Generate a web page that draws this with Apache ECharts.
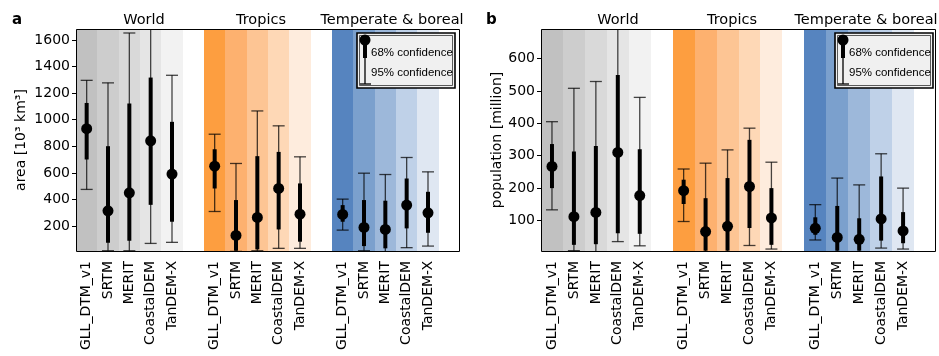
<!DOCTYPE html>
<html>
<head>
<meta charset="utf-8">
<script src="https://cdn.jsdelivr.net/npm/echarts@6/dist/echarts.min.js"></script>
<style>
  html, body { margin: 0; padding: 0; background: #fff; }
  #chart { width: 939px; height: 356px; }
</style>
</head>
<body>
<div id="chart"></div>
<script>
// DEM names, repeated per region with an empty slot as a gap
const dems = ['GLL_DTM_v1', 'SRTM', 'MERIT', 'CoastalDEM', 'TanDEM-X']
const regions = ['World', 'Tropics', 'Temperate & boreal']
const xLabels = [...dems, '', ...dems, '', ...dems, '']
const positions = [0, 1, 2, 3, 4, 6, 7, 8, 9, 10, 12, 13, 14, 15, 16]

// background shades, one per DEM slot
const bandColors = [
  '#c1c1c1', '#cdcdcd', '#d9d9d9', '#e5e5e5', '#f2f2f2',
  '#fd9e40', '#fdb16f', '#fdc594', '#fed8b6', '#feecdd',
  '#5684bf', '#7ba0cd', '#9db8da', '#bfd1e8', '#dfe7f2'
]

// panel a: area [10^3 km^3]
const areaMid  = [933, 315, 450, 841, 591, 651, 130, 265, 483, 290, 288, 190, 175, 358, 300]
const areaLo68 = [701, 75, 90, 360, 233, 483, 15, 25, 175, 83, 233, 50, 33, 183, 150]
const areaHi68 = [1126, 801, 1121, 1317, 984, 778, 396, 726, 758, 521, 358, 396, 391, 558, 458]
const areaLo95 = [476, 15, 15, 70, 78, 310, 10, 15, 33, 33, 170, 15, 8, 38, 50]
const areaHi95 = [1296, 1277, 1652, 1750, 1334, 891, 671, 1066, 954, 721, 403, 598, 588, 716, 608]
const areaTicks = [200, 400, 600, 800, 1000, 1200, 1400, 1600]

// panel b: population [million]
const popMid  = [267, 112, 125, 310, 177, 192, 66, 82, 205, 108, 76, 48, 42, 105, 68]
const popLo68 = [200, 25, 27, 61, 59, 151, 7, 7, 77, 25, 56, 7, 7, 38, 30]
const popHi68 = [336, 313, 330, 549, 320, 226, 169, 231, 349, 200, 110, 145, 107, 236, 126]
const popLo95 = [133, 7, 4, 35, 22, 97, 4, 4, 23, 12, 40, 4, 4, 15, 12]
const popHi95 = [405, 508, 529, 720, 480, 259, 277, 318, 385, 280, 149, 231, 210, 306, 200]
const popTicks = [100, 200, 300, 400, 500, 600]

const FONT = 'DejaVu Sans'
const LEGEND_FONT = 'Liberation Sans'

// pixel layout of the two panels
const panels = [
  { left: 76, width: 384, top: 29, height: 222 },
  { left: 541, width: 395, top: 29, height: 222 }
]

function errData(mid, lo68, hi68, lo95, hi95) {
  return positions.map((p, i) => [p, mid[i], lo68[i], hi68[i], lo95[i], hi95[i]])
}

function renderBand(params, api) {
  const cs = params.coordSys
  const c = api.coord([api.value(0), 0])
  const w = api.size([1, 0])[0]
  const x0 = Math.round(c[0] - w / 2)
  const x1 = Math.round(c[0] + w / 2)
  return {
    type: 'rect',
    shape: { x: x0, y: cs.y, width: x1 - x0, height: cs.height },
    style: { fill: bandColors[params.dataIndex] }
  }
}

function renderErr(params, api) {
  const x = api.value(0)
  const mid = api.coord([x, api.value(1)])
  const lo68 = api.coord([x, api.value(2)])
  const hi68 = api.coord([x, api.value(3)])
  const lo95 = api.coord([x, api.value(4)])
  const hi95 = api.coord([x, api.value(5)])
  const px = mid[0]
  const cap = 6
  const thin = { stroke: 'rgba(0,0,0,0.72)', lineWidth: 1.3 }
  return {
    type: 'group',
    children: [
      { type: 'line', shape: { x1: px, y1: lo95[1], x2: px, y2: hi95[1] }, style: thin },
      { type: 'line', shape: { x1: px - cap, y1: lo95[1], x2: px + cap, y2: lo95[1] }, style: thin },
      { type: 'line', shape: { x1: px - cap, y1: hi95[1], x2: px + cap, y2: hi95[1] }, style: thin },
      { type: 'line', shape: { x1: px, y1: lo68[1], x2: px, y2: hi68[1] }, style: { stroke: '#000', lineWidth: 4 } },
      { type: 'circle', shape: { cx: px, cy: mid[1], r: 5.5 }, style: { fill: '#000' } }
    ]
  }
}

function legendGraphics(boxX, glyphX, textX) {
  const top = 33, h = 55, w = 98
  return [
    { type: 'rect', z: 100, shape: { x: boxX, y: top, width: w, height: h },
      style: { fill: '#f0f0f0', stroke: '#000', lineWidth: 1.6 } },
    { type: 'rect', z: 100, shape: { x: boxX + 2.5, y: top + 2.5, width: w - 5, height: h - 5 },
      style: { fill: 'none', stroke: '#333', lineWidth: 0.8 } },
    { type: 'line', z: 101, shape: { x1: glyphX, y1: 40, x2: glyphX, y2: 84 },
      style: { stroke: '#000', lineWidth: 1.3 } },
    { type: 'line', z: 101, shape: { x1: glyphX - 5, y1: 84, x2: glyphX + 6, y2: 84 },
      style: { stroke: '#000', lineWidth: 1.3 } },
    { type: 'line', z: 101, shape: { x1: glyphX, y1: 40, x2: glyphX, y2: 58 },
      style: { stroke: '#000', lineWidth: 4 } },
    { type: 'circle', z: 101, shape: { cx: glyphX, cy: 40, r: 5.5 }, style: { fill: '#000' } },
    { type: 'text', z: 101, x: textX, y: 53, style: { text: '68% confidence', font: '11.5px ' + LEGEND_FONT,
      fill: '#000', verticalAlign: 'middle' } },
    { type: 'text', z: 101, x: textX, y: 73, style: { text: '95% confidence', font: '11.5px ' + LEGEND_FONT,
      fill: '#000', verticalAlign: 'middle' } }
  ]
}

function titleText(x, text, bold) {
  return { type: 'text', z: 100, x: x, y: 20,
    style: { text: text, font: (bold ? 'bold 15px ' : '14.5px ') + FONT, fill: '#000',
      align: bold ? 'left' : 'center', verticalAlign: 'middle' } }
}

const chart = echarts.init(document.getElementById('chart'))

const xAxisBase = {
  type: 'category',
  data: xLabels,
  boundaryGap: true,
  axisLine: { show: false },
  axisTick: { alignWithLabel: true, length: 4, lineStyle: { color: '#000' },
    interval: (i) => xLabels[i] !== '' },
  axisLabel: { interval: 0, rotate: 90, margin: 10, color: '#000', fontSize: 14, fontFamily: FONT },
  splitLine: { show: false }
}

const yAxisBase = {
  type: 'value',
  axisLine: { show: false },
  splitLine: { show: false },
  nameLocation: 'middle',
  nameTextStyle: { color: '#000', fontSize: 14, fontFamily: FONT },
  axisLabel: { color: '#000', fontSize: 14, fontFamily: FONT, margin: 6, formatter: (v) => String(v) },
  axisTick: { show: true, length: 4, lineStyle: { color: '#000' } }
}

const option = {
  backgroundColor: '#fff',
  animation: false,
  grid: panels.map(p => ({ left: p.left, top: p.top, width: p.width, height: p.height })),
  xAxis: [
    { ...xAxisBase, gridIndex: 0 },
    { ...xAxisBase, gridIndex: 1 }
  ],
  yAxis: [
    { ...yAxisBase, gridIndex: 0, min: 13, max: 1682, name: 'area [10³ km³]', nameGap: 48,
      axisLabel: { ...yAxisBase.axisLabel, customValues: areaTicks },
      axisTick: { ...yAxisBase.axisTick, customValues: areaTicks } },
    { ...yAxisBase, gridIndex: 1, min: 6, max: 691, name: 'population [million]', nameGap: 36,
      axisLabel: { ...yAxisBase.axisLabel, customValues: popTicks },
      axisTick: { ...yAxisBase.axisTick, customValues: popTicks } }
  ],
  series: [
    { type: 'custom', xAxisIndex: 0, yAxisIndex: 0, z: 1, silent: true,
      data: positions.map(p => [p]), renderItem: renderBand },
    { type: 'custom', xAxisIndex: 1, yAxisIndex: 1, z: 1, silent: true,
      data: positions.map(p => [p]), renderItem: renderBand },
    { type: 'custom', xAxisIndex: 0, yAxisIndex: 0, z: 5, clip: true, silent: true,
      data: errData(areaMid, areaLo68, areaHi68, areaLo95, areaHi95), renderItem: renderErr },
    { type: 'custom', xAxisIndex: 1, yAxisIndex: 1, z: 5, clip: true, silent: true,
      data: errData(popMid, popLo68, popHi68, popLo95, popHi95), renderItem: renderErr }
  ],
  graphic: [
    // plot frames
    ...panels.map(p => ({ type: 'rect', z: 99, silent: true,
      shape: { x: p.left + 0.5, y: p.top + 0.5, width: p.width - 1, height: p.height },
      style: { fill: 'none', stroke: '#000', lineWidth: 1 } })),
    titleText(12, 'a', true),
    titleText(144, regions[0]),
    titleText(261, regions[1]),
    titleText(392, regions[2]),
    titleText(486, 'b', true),
    titleText(618, regions[0]),
    titleText(732, regions[1]),
    titleText(866, regions[2]),
    ...legendGraphics(357, 365, 371),
    ...legendGraphics(835, 843, 849)
  ]
}

chart.setOption(option)
</script>
</body>
</html>
